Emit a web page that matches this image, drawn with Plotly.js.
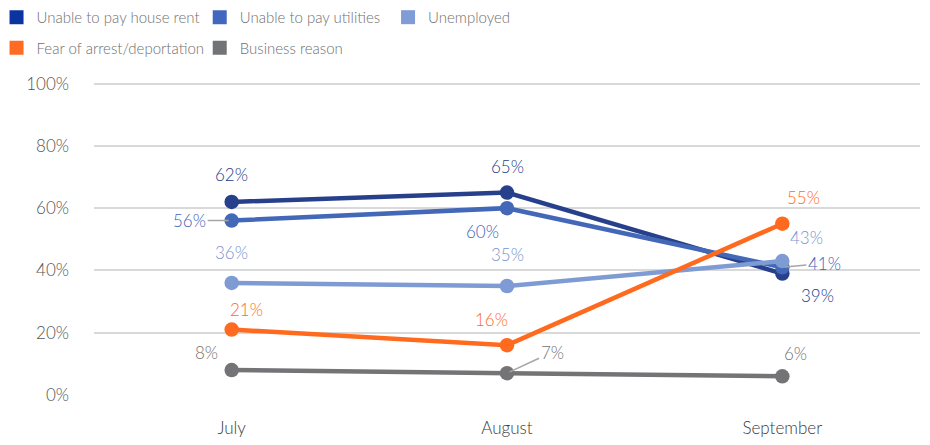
<!DOCTYPE html>
<html>
<head>
<meta charset="utf-8">
<script src="https://cdn.plot.ly/plotly-3.0.1.min.js"></script>
<style>
  html, body { margin: 0; padding: 0; background: #fff; }
  #chart { width: 930px; height: 445px; }
</style>
</head>
<body>
<div id="chart"></div>
<script>
const months = ['July', 'August', 'September'];

const seriesNames = [
  'Unable to pay house rent',
  'Unable to pay utilities',
  'Unemployed',
  'Fear of arrest/deportation',
  'Business reason'
];

const houseRent = [62, 65, 39];
const utilities = [56, 60, 41];
const unemployed = [36, 35, 43];
const fearArrest = [21, 16, 55];
const business = [8, 7, 6];

const yTicks = [0, 20, 40, 60, 80, 100];

// styling
const lineColors = ['#27408b', '#4468b8', '#7f9bd3', '#ff6a1e', '#747477'];
const swatchColors = ['#0c34a0', '#4267bf', '#7f9cd6', '#ff6b22', '#727376'];
const labelColors = ['#243d8c', '#3f63b5', '#7895d0', '#ff6a1e', '#737373'];
const legendOf = ['legend', 'legend2', 'legend3', 'legend', 'legend2'];

// pixel offsets of each data label from its point [dx, dy], dy up
const labelOffsets = [
  [[0, 27], [0, 26], [35, -22]],
  [[-42, 0], [-25, -23], [42, 4]],
  [[0, 30], [0, 32], [24, 24]],
  [[15, 20], [-16, 26], [21, 26]],
  [[-25, 18], [45, 21], [13, 23]]
];
// labels that have a small leader line
const leaders = [[1, 0], [1, 2], [4, 1]];

const allValues = [houseRent, utilities, unemployed, fearArrest, business];
const FONT = 'Lato, "Open Sans", sans-serif';
const W = 300;

const traces = [];
allValues.forEach((vals, i) => {
  traces.push({
    x: months,
    y: vals,
    type: 'scatter',
    mode: 'lines+markers',
    name: seriesNames[i],
    legendgroup: 'g' + i,
    showlegend: false,
    line: { color: lineColors[i], width: 4.5 },
    marker: { color: lineColors[i], size: 14.5 },
    hovertemplate: '%{x}: %{y}%<extra>' + seriesNames[i] + '</extra>'
  });
});
// legend swatches
allValues.forEach((vals, i) => {
  traces.push({
    x: [null],
    y: [null],
    type: 'scatter',
    mode: 'markers',
    name: seriesNames[i],
    legendgroup: 'g' + i,
    legend: legendOf[i],
    marker: { color: swatchColors[i], size: 14, symbol: 'square' },
    hoverinfo: 'skip'
  });
});

const annotations = [];
allValues.forEach((vals, i) => {
  vals.forEach((v, j) => {
    const off = labelOffsets[i][j];
    const hasLeader = leaders.some(l => l[0] === i && l[1] === j);
    const a = {
      x: months[j],
      y: v,
      xref: 'x',
      yref: 'y',
      text: v + '%',
      font: { family: FONT, size: 17, weight: W, color: labelColors[i] }
    };
    if (hasLeader) {
      Object.assign(a, {
        showarrow: true,
        arrowhead: 0,
        arrowwidth: 1.5,
        arrowcolor: '#a6a6a6',
        standoff: 3,
        ax: off[0],
        ay: -off[1]
      });
    } else {
      Object.assign(a, { showarrow: false, xshift: off[0], yshift: off[1] });
    }
    annotations.push(a);
  });
});

const legendBase = {
  orientation: 'v',
  yanchor: 'top',
  y: 1.259,
  xanchor: 'left',
  bgcolor: 'rgba(0,0,0,0)',
  tracegroupgap: 8,
  font: { family: FONT, size: 15, weight: W, color: '#6f6f6f' }
};

const layout = {
  width: 930,
  height: 445,
  margin: { l: 94, r: 10, t: 82, b: 50, autoexpand: false },
  paper_bgcolor: '#ffffff',
  plot_bgcolor: '#ffffff',
  font: { family: FONT, weight: W },
  showlegend: true,
  legend: Object.assign({}, legendBase, { x: -0.118 }),
  legend2: Object.assign({}, legendBase, { x: 0.128 }),
  legend3: Object.assign({}, legendBase, { x: 0.356 }),
  xaxis: {
    type: 'category',
    range: [-0.5, 2.5],
    showgrid: false,
    showline: false,
    zeroline: false,
    ticks: '',
    ticklabelstandoff: 21,
    tickfont: { family: FONT, size: 17, weight: W, color: '#3a3a3a' },
    fixedrange: true
  },
  yaxis: {
    range: [0, 100.5],
    tickvals: yTicks,
    ticktext: yTicks.map(t => t + '%'),
    showgrid: true,
    gridcolor: '#d9d9d9',
    gridwidth: 1.5,
    zeroline: false,
    showline: false,
    ticks: '',
    ticklabelstandoff: 24,
    tickfont: { family: FONT, size: 17, weight: W, color: '#555555' },
    fixedrange: true
  },
  annotations: annotations,
  hovermode: 'closest'
};

Plotly.newPlot('chart', traces, layout, { displayModeBar: false, responsive: false });
</script>
</body>
</html>
